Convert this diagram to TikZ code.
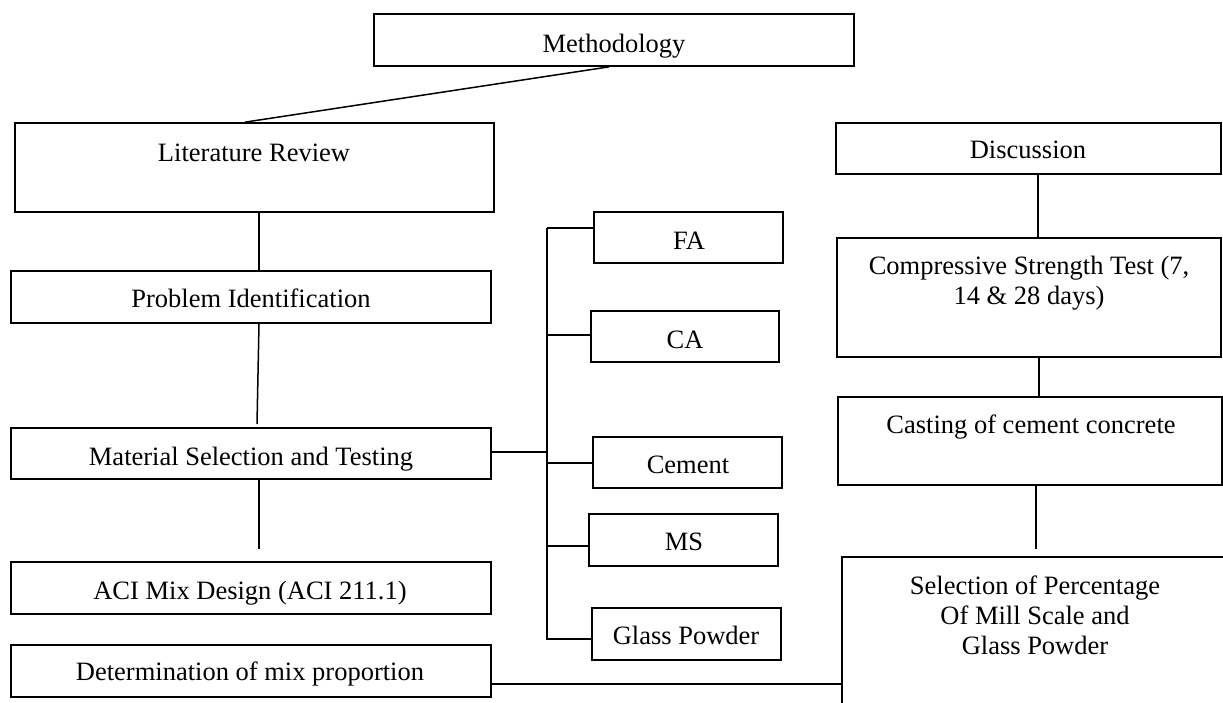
\documentclass[tikz,border=0pt]{standalone}
\usepackage{fontspec}
\setmainfont{Liberation Serif}
\begin{document}
\begin{tikzpicture}[x=1pt,y=-1pt,
  box/.style={draw, line width=1.7pt, inner sep=0pt, rectangle},
  txt/.style={anchor=base, inner sep=0pt, align=center, font=\fontsize{26.5}{30}\selectfont},
  conn/.style={line width=1.5pt}]
\useasboundingbox (0,0) rectangle (1223,702);
\clip (0,0) rectangle (1223,702);
% boxes
\node[box, minimum width=480pt, minimum height=52pt] (meth) at (614,40) {};
\node[box, minimum width=479pt, minimum height=89pt] (lit) at (254.5,167.5) {};
\node[box, minimum width=480pt, minimum height=52pt] (prob) at (251,297) {};
\node[box, minimum width=480pt, minimum height=51pt] (mat) at (251,453.5) {};
\node[box, minimum width=480pt, minimum height=52pt] (aci) at (251,588) {};
\node[box, minimum width=480pt, minimum height=52pt] (det) at (251,671) {};
\node[box, minimum width=189pt, minimum height=51pt] (fa) at (688.5,237.5) {};
\node[box, minimum width=188pt, minimum height=51pt] (ca) at (685,336.5) {};
\node[box, minimum width=189pt, minimum height=51pt] (cem) at (687.5,462.5) {};
\node[box, minimum width=189pt, minimum height=52pt] (ms) at (683.5,540) {};
\node[box, minimum width=189pt, minimum height=52pt] (gp) at (686.5,634) {};
\node[box, minimum width=385pt, minimum height=51pt] (disc) at (1028.5,148.5) {};
\node[box, minimum width=384pt, minimum height=119pt] (comp) at (1029,297.5) {};
\node[box, minimum width=384pt, minimum height=88pt] (cast) at (1030,441) {};
\node[box, minimum width=420pt, minimum height=200pt] (sel) at (1052,657) {};
% texts
\node[txt] (methT) at (614,52) {Methodology};
\node[txt] (litT) at (254,161) {Literature Review};
\node[txt] (probT) at (251,307) {Problem Identification};
\node[txt] (matT) at (251,465) {Material Selection and Testing};
\node[txt] (aciT) at (250,599) {ACI Mix Design (ACI 211.1)};
\node[txt] (detT) at (250,680) {Determination of mix proportion};
\node[txt] (faT) at (689,249) {FA};
\node[txt] (caT) at (685,348) {CA};
\node[txt] (cemT) at (688,473) {Cement};
\node[txt] (msT) at (684,550) {MS};
\node[txt] (gpT) at (686,644) {Glass Powder};
\node[txt] (discT) at (1028,158) {Discussion};
\node[txt] (compT) at (1029,304) {Compressive Strength Test (7,\\14 \& 28 days)};
\node[txt] (castT) at (1031,433) {Casting of cement concrete};
\node[txt] (selT) at (1035,654) {Selection of Percentage\\Of Mill Scale and\\Glass Powder};
% helper coordinates
\coordinate (m1) at (609,0);
\coordinate (l1) at (245,0);
\coordinate (lx) at (259,0);
\coordinate (p2) at (257,424);
\coordinate (a2) at (259,549);
\coordinate (bx) at (547,0);
\coordinate (bt) at (547,228);
\coordinate (bb) at (547,640);
\coordinate (dx) at (0,684);
\coordinate (rx1) at (1038,0);
\coordinate (rx2) at (1039,0);
\coordinate (s2) at (1036,549);
% connectors
\draw[conn] (meth.south -| m1) -- (lit.north -| l1);
\draw[conn] (lit.south -| lx) -- (prob.north -| lx);
\draw[conn] (prob.south -| lx) -- (p2);
\draw[conn] (mat.south -| lx) -- (a2);
\draw[conn] (mat.east |- 0,452) -- (bx |- 0,452);
\draw[conn] (bt) -- (bb);
\draw[conn] (bt) -- (fa.west |- bt);
\draw[conn] (bx |- 0,335) -- (ca.west |- 0,335);
\draw[conn] (bx |- 0,463) -- (cem.west |- 0,463);
\draw[conn] (bx |- 0,546) -- (ms.west |- 0,546);
\draw[conn] (bx |- 0,639) -- (gp.west |- 0,639);
\draw[conn] (det.east |- dx) -- (sel.west |- dx);
\draw[conn] (disc.south -| rx1) -- (comp.north -| rx1);
\draw[conn] (comp.south -| rx2) -- (cast.north -| rx2);
\draw[conn] (cast.south -| s2) -- (s2);
\end{tikzpicture}
\end{document}
